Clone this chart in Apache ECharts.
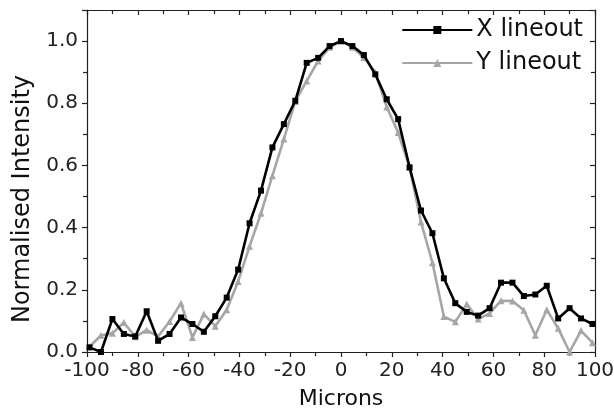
<!DOCTYPE html>
<html>
<head>
<meta charset="utf-8">
<script src="https://cdn.jsdelivr.net/npm/echarts@6/dist/echarts.min.js"></script>
<style>html,body{margin:0;padding:0;background:#fff}#c{width:614px;height:412px}</style>
</head>
<body>
<div id="c"></div>
<script>
var microns = [-99,-94.5,-90,-85.5,-81,-76.5,-72,-67.5,-63,-58.5,-54,-49.5,-45,-40.5,-36,-31.5,-27,-22.5,-18,-13.5,-9,-4.5,0,4.5,9,13.5,18,22.5,27,31.5,36,40.5,45,49.5,54,58.5,63,67.5,72,76.5,81,85.5,90,94.5,99];
var xLineout = [0.015,0.0,0.106,0.058,0.05,0.131,0.036,0.058,0.111,0.09,0.065,0.115,0.175,0.265,0.414,0.519,0.658,0.733,0.808,0.93,0.946,0.984,1.0,0.984,0.955,0.893,0.813,0.749,0.594,0.455,0.382,0.237,0.157,0.129,0.117,0.141,0.223,0.223,0.18,0.185,0.213,0.108,0.141,0.108,0.09];
var yLineout = [0.017,0.054,0.06,0.095,0.049,0.07,0.05,0.098,0.157,0.047,0.122,0.083,0.136,0.227,0.34,0.446,0.567,0.685,0.806,0.872,0.936,0.98,1.0,0.98,0.947,0.9,0.788,0.706,0.594,0.418,0.287,0.114,0.097,0.154,0.106,0.124,0.165,0.164,0.134,0.054,0.136,0.076,0.0,0.069,0.03];
var xTicks = [-100,-80,-60,-40,-20,0,20,40,60,80,100];
var yTicks = [0.0,0.2,0.4,0.6,0.8,1.0];
var seriesNames = ['X lineout','Y lineout'];

function pairs(xs, ys){ return xs.map(function(x,i){ return [x, ys[i]]; }); }

var font = 'DejaVu Sans, sans-serif';
var chart = echarts.init(document.getElementById('c'));
var axisLineStyle = {color:'#222', width:1.2};
chart.setOption({
  animation:false,
  backgroundColor:'#fff',
  grid:{left:87, right:19, top:10, bottom:60, containLabel:false, outerBoundsMode:'none'},
  legend:{
    right:26, top:13, orient:'vertical', itemGap:9,
    itemWidth:70, itemHeight:10,
    textStyle:{fontFamily:font, fontSize:24, lineHeight:24, color:'#111', padding:[0,0,0,-1]},
    data:seriesNames
  },
  xAxis:[{
    type:'value', min:-100, max:100, interval:20,
    name:'Microns', nameLocation:'middle', nameGap:36,
    nameTextStyle:{fontFamily:font, fontSize:22, color:'#111'},
    axisLine:{onZero:false, lineStyle:axisLineStyle},
    axisTick:{show:true, inside:false, length:5, lineStyle:axisLineStyle},
    minorTick:{show:true, splitNumber:2, length:4, lineStyle:axisLineStyle},
    axisLabel:{fontFamily:font, fontSize:20, color:'#222', margin:9,
      formatter:function(v){ return xTicks.indexOf(v)>=0 ? String(v) : ''; }},
    splitLine:{show:false}
  },{
    type:'value', position:'top', min:-100, max:100, interval:20,
    axisLine:{onZero:false, lineStyle:axisLineStyle},
    axisTick:{show:true, inside:true, length:5, lineStyle:axisLineStyle},
    minorTick:{show:true, splitNumber:2, length:4, lineStyle:axisLineStyle},
    axisLabel:{show:false}, splitLine:{show:false}
  }],
  yAxis:[{
    type:'value', min:0, max:1.1, interval:0.2,
    name:'Normalised Intensity', nameLocation:'middle', nameGap:52,
    nameTextStyle:{fontFamily:font, fontSize:24, color:'#111', padding:[0,36,0,0]},
    axisLine:{onZero:false, lineStyle:axisLineStyle},
    axisTick:{show:true, inside:false, length:5, lineStyle:axisLineStyle},
    minorTick:{show:true, splitNumber:2, length:4, lineStyle:axisLineStyle},
    axisLabel:{fontFamily:font, fontSize:20, color:'#222', margin:9, showMaxLabel:false,
      formatter:function(v){ return v.toFixed(1); }},
    splitLine:{show:false}
  },{
    type:'value', position:'right', min:0, max:1.1, interval:0.2,
    axisLine:{onZero:false, lineStyle:axisLineStyle},
    axisTick:{show:true, inside:true, length:5, lineStyle:axisLineStyle},
    minorTick:{show:true, splitNumber:2, length:4, lineStyle:axisLineStyle},
    axisLabel:{show:false}, splitLine:{show:false}
  }],
  series:[{
    name:seriesNames[1], type:'line', data:pairs(microns, yLineout),
    symbol:'triangle', symbolSize:7, z:2,
    lineStyle:{color:'#a6a6a6', width:2.6},
    itemStyle:{color:'#a6a6a6'}
  },{
    name:seriesNames[0], type:'line', data:pairs(microns, xLineout),
    symbol:'rect', symbolSize:6, z:3,
    lineStyle:{color:'#000', width:2.6},
    itemStyle:{color:'#000'}
  }]
});
</script>
</body>
</html>
